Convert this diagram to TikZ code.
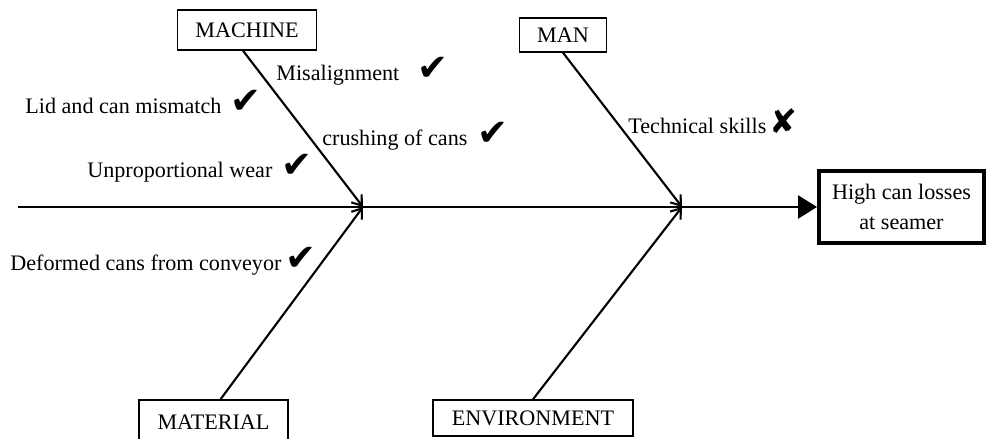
\documentclass[tikz,border=0pt]{standalone}
\usepackage{fontspec}
\setmainfont{Liberation Serif}
\newfontfamily\markfont{DejaVu Sans}
\usetikzlibrary{arrows.meta}
\newcommand{\okmark}{{\markfont\fontsize{21}{21}\selectfont ✔}}
\newcommand{\nomark}{{\markfont\fontsize{19}{19}\selectfont ✘}}
\tikzset{
  catbox/.style={draw, line width=0.8pt, inner sep=0pt, font=\fontsize{12.6}{14}\selectfont},
  cause/.style={anchor=base west, inner sep=0pt, font=\fontsize{12.6}{14}\selectfont},
  bone/.style={line width=1.2pt, -{Straight Barb[length=1.8mm,width=2.6mm]}}
}
\begin{document}
\begin{tikzpicture}
	\useasboundingbox (0,0) rectangle (19.74,8.78);
	% Effect box
	\node[ catbox, line width=2.2pt, minimum width=3.3cm, minimum height=1.44cm, align=center,
	       font=\fontsize{12.6}{17}\selectfont ] (effect) at (18.03,4.64) {High can losses\\at seamer};
	% Spine
	\coordinate (tail) at (0.36,4.64);
	\draw[ line width=1.3pt, -{Triangle[length=0.38cm,width=0.46cm]} ] (tail) -- (effect.west);
	\coordinate (j1) at (7.26,4.64);
	\coordinate (j2) at (13.64,4.64);
	% Machine
	\node[ catbox, minimum width=2.78cm, minimum height=0.8cm ] (machine) at (4.94,8.18) {MACHINE};
	\draw[ bone ] ([xshift=-0.08cm]machine.south) -- (j1);
	% Man
	\node[ catbox, minimum width=1.74cm, minimum height=0.68cm ] (man) at (11.26,8.08) {MAN};
	\draw[ bone ] (man.south) -- (j2);
	% Material
	\node[ catbox, minimum width=2.98cm, minimum height=0.9cm ] (material) at (4.27,0.33) {MATERIAL};
	\draw[ bone ] ([xshift=0.14cm]material.north) -- (j1);
	% Environment
	\node[ catbox, minimum width=4cm, minimum height=0.72cm ] (environment) at (10.66,0.42) {ENVIRONMENT};
	\draw[ bone ] (environment.north) -- (j2);
	% Causes
	\node[ cause ] (misalign) at (5.52,7.16) {Misalignment\hspace{0.36cm}\okmark};
	\node[ cause ] (lid) at (0.50,6.50) {Lid and can mismatch\hspace{0.18cm}\okmark};
	\node[ cause ] (crush) at (6.44,5.86) {crushing of cans\hspace{0.2cm}\okmark};
	\node[ cause ] (wear) at (1.74,5.22) {Unproportional wear\hspace{0.18cm}\okmark};
	\node[ cause ] (deformed) at (0.20,3.36) {Deformed cans from conveyor\hspace{0.08cm}\okmark};
	\node[ cause ] (skills) at (12.56,6.10) {Technical skills\hspace{0.06cm}\nomark};
\end{tikzpicture}
\end{document}
